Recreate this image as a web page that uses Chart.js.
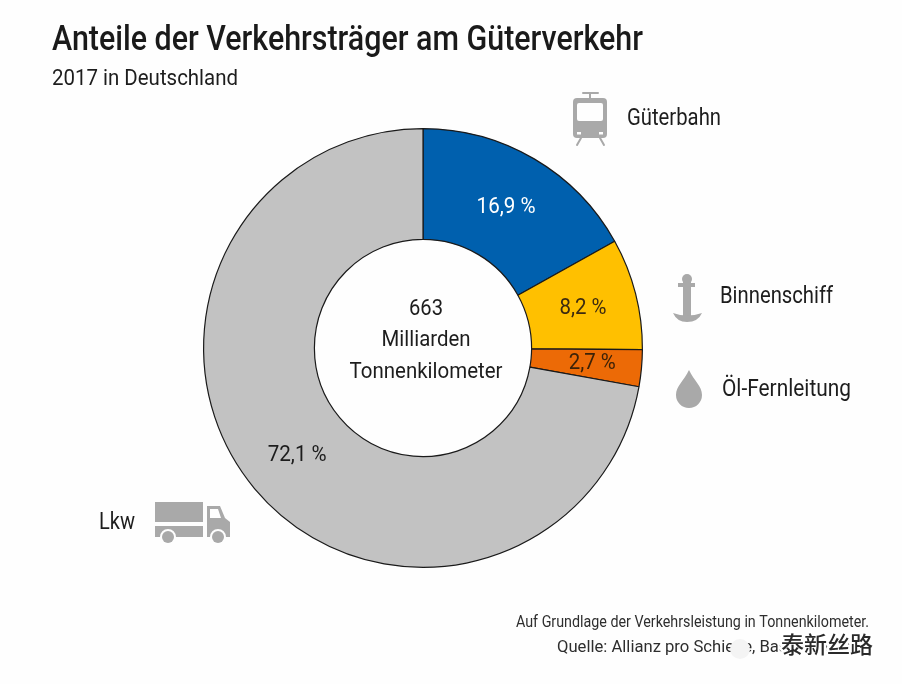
<!DOCTYPE html>
<html><head><meta charset="utf-8">
<script src="https://cdn.jsdelivr.net/npm/chart.js@4"></script>
<style>html,body{margin:0;padding:0;background:#fefefe}#w{position:relative;width:902px;height:684px}canvas{display:block}</style>
</head><body><div id="w"><canvas id="c" width="902" height="684"></canvas></div>
<script>
const categories = ["Güterbahn","Binnenschiff","Öl-Fernleitung","Lkw"];
const values = [16.9,8.2,2.7,72.1];
const valueLabels = ["16,9 %","8,2 %","2,7 %","72,1 %"];
const colors = ["#0060ae","#ffc000","#ec6a06","#c2c2c2"];
const labelColors = ["#ffffff","#3c2a10","#3c2208","#1c1c1c"];
const titleText = "Anteile der Verkehrsträger am Güterverkehr";
const subtitleText = "2017 in Deutschland";
const centerLines = ["663","Milliarden","Tonnenkilometer"];
const footLines = ["Auf Grundlage der Verkehrsleistung in Tonnenkilometer.","Quelle: Allianz pro Schiene, Basis: Destatis"];
const watermarkText = "泰新丝路";
const catLayout = [[627,119,94],[720,297,113],[722,390,129],[99,523,36]];
const valueLayout = [[0,1,59],[1,1,47],[6,0,47],[0,2,59]];
const centerLayout = [[309,34],[340,89],[372,153]];
const FONT = "Roboto";
function txt(ctx,s,x,y,size,color,align,width,weight){
  ctx.save();ctx.font=(weight||400)+" "+size+"px "+FONT;ctx.fillStyle=color;ctx.textBaseline="middle";ctx.textAlign=align||"left";
  const sx=width/ctx.measureText(s).width;
  ctx.translate(x,y);ctx.scale(sx,1);ctx.fillText(s,0,0);ctx.restore();
}
const G="#a9a9a9",BG="#fefefe";
function icons(ctx){
  ctx.save();ctx.fillStyle=G;ctx.strokeStyle=G;ctx.lineCap="round";
  // tram
  ctx.lineWidth=2;
  ctx.beginPath();ctx.moveTo(583,93);ctx.lineTo(598,93);ctx.moveTo(590,93);ctx.lineTo(590,99);ctx.stroke();
  ctx.beginPath();ctx.roundRect(573,98,34,40,4);ctx.fill();
  ctx.fillStyle=BG;ctx.beginPath();ctx.roundRect(577,103,26,18,2);ctx.fill();
  ctx.fillRect(577,132,4,2.5);ctx.fillRect(599,132,4,2.5);
  ctx.beginPath();ctx.moveTo(581,138);ctx.lineTo(577,145);ctx.moveTo(600,138);ctx.lineTo(604,145);ctx.stroke();
  // anchor
  ctx.fillStyle=G;
  ctx.beginPath();ctx.arc(687,279,5,0,Math.PI*2);ctx.fill();
  ctx.fillRect(678,283,17,4);ctx.fillRect(683,280,8,36);
  ctx.beginPath();ctx.moveTo(673,313);ctx.quadraticCurveTo(687,318,702,313);ctx.quadraticCurveTo(698,322,687,322);ctx.quadraticCurveTo(677,322,673,313);ctx.fill();
  // drop
  ctx.beginPath();ctx.moveTo(689,370);ctx.bezierCurveTo(694,381,702,386,702,395);ctx.arc(689,395,13,0,Math.PI);ctx.bezierCurveTo(676,386,684,381,689,370);ctx.fill();
  // truck
  ctx.fillRect(155,502,48,20);ctx.fillRect(155,526,48,11);
  ctx.beginPath();ctx.moveTo(207,506);ctx.lineTo(220,506);ctx.lineTo(225,518);ctx.lineTo(230,522);ctx.lineTo(230,537);ctx.lineTo(207,537);ctx.closePath();ctx.fill();
  ctx.fillStyle=BG;ctx.beginPath();ctx.moveTo(210,509);ctx.lineTo(218,509);ctx.lineTo(221,518);ctx.lineTo(210,518);ctx.closePath();ctx.fill();
  ctx.beginPath();ctx.arc(168,537,8,0,Math.PI*2);ctx.arc(218,537,8,0,Math.PI*2);ctx.fill();
  ctx.fillStyle=G;ctx.beginPath();ctx.arc(168,537,6,0,Math.PI*2);ctx.fill();ctx.beginPath();ctx.arc(218,537,6,0,Math.PI*2);ctx.fill();
  ctx.restore();
}
function watermark(ctx){
  ctx.save();
  ctx.fillStyle="#f4f4f4";ctx.beginPath();ctx.arc(740,649,10,0,Math.PI*2);ctx.fill();
  ctx.font="500 23px 'Noto Sans CJK SC'";ctx.textAlign="right";ctx.textBaseline="middle";
  ctx.lineJoin="round";ctx.strokeStyle="#ffffff";ctx.lineWidth=5;ctx.strokeText(watermarkText,873,644);
  ctx.fillStyle="#2a2a2a";ctx.fillText(watermarkText,873,644);
  ctx.restore();
}
const overlay={id:"overlay",afterDatasetsDraw(chart){
  const ctx=chart.ctx;
  txt(ctx,titleText,52,41,35,"#1a1a1a","left",591,500);
  txt(ctx,subtitleText,52,79,22,"#1d1d1d","left",186);
  const arcs=chart.getDatasetMeta(0).data;
  const cx=arcs[0].x;
  arcs.forEach((a,i)=>{const p=a.getCenterPoint(),v=valueLayout[i];txt(ctx,valueLabels[i],p.x+v[0],p.y+v[1],22,labelColors[i],"center",v[2],400);});
  centerLines.forEach((s,i)=>txt(ctx,s,cx+3,centerLayout[i][0],22,"#1d1d1d","center",centerLayout[i][1]));
  categories.forEach((s,i)=>txt(ctx,s,catLayout[i][0],catLayout[i][1],24,"#1d1d1d","left",catLayout[i][2]));
  icons(ctx);
  txt(ctx,footLines[0],869,623,16,"#2e2e2e","right",353,400);
  txt(ctx,footLines[1],869,648,16,"#2e2e2e","right",312,400);
  watermark(ctx);
}};
new Chart(document.getElementById("c"),{type:"doughnut",
  data:{labels:categories,datasets:[{data:values,backgroundColor:colors,borderColor:"#1a1a1a",borderWidth:1.2,hoverOffset:0}]},
  options:{responsive:false,animation:false,cutout:"49.5%",rotation:0,
    layout:{padding:{left:203,right:259,top:128,bottom:116}},
    plugins:{legend:{display:false},tooltip:{enabled:false},title:{display:false}}},
  plugins:[overlay]});
</script></body></html>
